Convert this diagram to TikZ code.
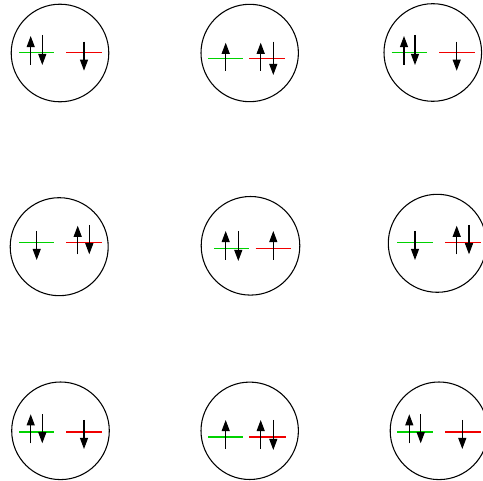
\documentclass[tikz,border=0pt]{standalone}
\usetikzlibrary{arrows.meta}
\definecolor{lvlgreen}{RGB}{0,210,0}
\definecolor{lvlred}{RGB}{240,0,0}
\tikzset{
  orb/.style={draw=black,line width=0.8pt},
  glev/.style={draw=lvlgreen,line width=1.15pt},
  rlev/.style={draw=lvlred,line width=1.15pt},
  spin/.style={draw=black,line width=0.8pt,-{Triangle[length=8.3pt,width=6pt]}}
}
\begin{document}
\begin{tikzpicture}[x=0.75pt,y=-0.75pt]
\useasboundingbox (0,0) rectangle (483,481);
% circle 1
\draw[orb] (60,53) circle[radius=48.8];
\draw[glev] (19,52.5) -- (54,52.5);
\draw[rlev] (66,52.5) -- (102,52.5);
\draw[spin] (30.7,65) -- (30.7,36);
\draw[spin] (42.3,35) -- (42.3,65);
\draw[spin] (84,41.7) -- (84,70.7);
% circle 2
\draw[orb] (249.7,53) circle[radius=48.7];
\draw[glev] (208.3,58.5) -- (243.3,58.5);
\draw[rlev] (249.3,58.5) -- (285,58.5);
\draw[spin] (225.7,71) -- (225.7,42.7);
\draw[spin] (260.7,71) -- (260.7,42.7);
\draw[spin] (273.3,41.7) -- (273.3,75);
% circle 3
\draw[orb] (432.8,52.5) circle[radius=48.8];
\draw[glev] (391.7,52.5) -- (427.3,52.5);
\draw[rlev] (439,52.5) -- (475,52.5);
\draw[spin] (404,65) -- (404,36);
\draw[spin] (415,35) -- (415,65);
\draw[spin] (456.7,41.7) -- (456.7,70.7);
% circle 4
\draw[orb] (59.2,246.7) circle[radius=49];
\draw[glev] (19,242.5) -- (54.3,242.5);
\draw[rlev] (66,242.5) -- (101.7,242.5);
\draw[spin] (36.7,231) -- (36.7,260);
\draw[spin] (77.7,254.3) -- (77.7,225.7);
\draw[spin] (89.3,225) -- (89.3,254.3);
% circle 5
\draw[orb] (250.5,245.8) circle[radius=49.3];
\draw[glev] (214,248.5) -- (249.3,248.5);
\draw[rlev] (255.7,248.5) -- (291,248.5);
\draw[spin] (225.7,260) -- (225.7,231);
\draw[spin] (238.3,231) -- (238.3,261);
\draw[spin] (273.3,260) -- (273.3,231);
% circle 6
\draw[orb] (437.3,243.3) circle[radius=49];
\draw[glev] (397.3,242.5) -- (432.7,242.5);
\draw[rlev] (445,242.5) -- (480.7,242.5);
\draw[spin] (415,231) -- (415,260);
\draw[spin] (456.7,254.3) -- (456.7,225.7);
\draw[spin] (469,225) -- (469,254.3);
% circle 7
\draw[orb] (60.5,430.8) circle[radius=48.8];
\draw[glev] (19,432) -- (54.3,432);
\draw[rlev] (66,432) -- (101.7,432);
\draw[spin] (30.7,443.3) -- (30.7,414.3);
\draw[spin] (42.3,414.3) -- (42.3,443.3);
\draw[spin] (84,420) -- (84,449);
% circle 8
\draw[orb] (249.7,430.8) circle[radius=48.7];
\draw[glev] (208.3,437) -- (243.3,437);
\draw[rlev] (249.3,437) -- (285.7,437);
\draw[spin] (225.7,449) -- (225.7,420);
\draw[spin] (260.7,449) -- (260.7,420);
\draw[spin] (273.3,420) -- (273.3,450);
% circle 9
\draw[orb] (439,430.8) circle[radius=48.8];
\draw[glev] (397.3,432) -- (432.7,432);
\draw[rlev] (445,432) -- (480.7,432);
\draw[spin] (409.3,443.3) -- (409.3,414.3);
\draw[spin] (420.7,414.3) -- (420.7,443.3);
\draw[spin] (462.3,420) -- (462.3,449);
\end{tikzpicture}
\end{document}
